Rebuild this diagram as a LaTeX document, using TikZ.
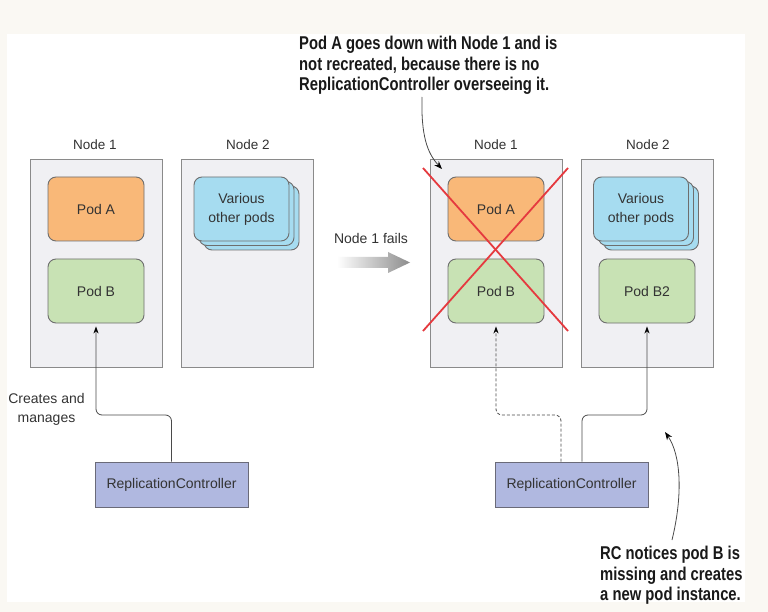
\documentclass[tikz,border=0pt]{standalone}
\usepackage{fontspec}
\setmainfont{Liberation Sans}
\newfontfamily\notefont[FakeStretch=0.80]{Liberation Sans}
\usetikzlibrary{arrows.meta}
\definecolor{bgout}{HTML}{FAF8F3}
\definecolor{nodefill}{HTML}{F0F0F3}
\definecolor{nodedraw}{HTML}{8A8A8A}
\definecolor{podborder}{HTML}{6E6E6E}
\definecolor{podAfill}{HTML}{F9B878}
\definecolor{podBfill}{HTML}{C8E2B4}
\definecolor{varfill}{HTML}{A6DCF0}
\definecolor{rcfill}{HTML}{B0B8E0}
\definecolor{rcdraw}{HTML}{6A6A78}
\definecolor{labelgray}{HTML}{333333}
\definecolor{linegray}{HTML}{4A4A4A}
\definecolor{redx}{HTML}{E53A3F}
\begin{document}
\begin{tikzpicture}[x=1pt,y=-1pt,
  nodebox/.style={draw=nodedraw, fill=nodefill, line width=0.9pt, minimum width=132pt, minimum height=208pt, inner sep=0pt},
  pod/.style={draw=podborder, line width=0.9pt, rounded corners=8pt, minimum width=96pt, minimum height=64pt, inner sep=0pt, align=center, text=labelgray, font=\fontsize{14}{19}\selectfont},
  podA/.style={pod, fill=podAfill},
  podB/.style={pod, fill=podBfill},
  various/.style={pod, fill=varfill, minimum width=95pt},
  rcbox/.style={draw=rcdraw, fill=rcfill, line width=0.9pt, minimum width=153pt, minimum height=45pt, inner sep=0pt, text=labelgray, font=\fontsize{14}{17}\selectfont},
  lbl/.style={text=labelgray, inner sep=0pt, font=\fontsize{13.5}{16}\selectfont, align=center},
  note/.style={inner sep=0pt, align=left, text=black!90, font=\notefont\bfseries\fontsize{18.5}{20.5}\selectfont},
  conn/.style={draw=linegray, line width=0.8pt, rounded corners=6pt, shorten >=3pt, -{Stealth[length=7pt,width=5pt,black]}},
  curvearrow/.style={draw=linegray, line width=0.8pt, -{Stealth[length=8pt,width=6pt,black]}},
  cross/.style={draw=redx, line width=1.8pt}
]
\useasboundingbox (0,0) rectangle (768,612);
\fill[bgout] (0,0) rectangle (768,612);
\fill[white] (7,34) rectangle (745,602);

% ---- left half ----
\node[lbl] (lblN1L) at (95,145) {Node 1};
\node[lbl] (lblN2L) at (248,145) {Node 2};
\node[nodebox] (n1L) at (96,263) {};
\node[nodebox] (n2L) at (247.5,263) {};
\node[podA] (podAL) at (96,209) {Pod A};
\node[podB] (podBL) at (96,291) {Pod B};
\node[various] (vL3) at (251.5,218) {};
\node[various] (vL2) at (246.5,213.5) {};
\node[various] (vL) at (241.5,209) {Various\\other pods};
\node[rcbox] (rcL) at (171.5,484.5) {ReplicationController};
\node[lbl, font=\fontsize{14}{19}\selectfont] (creates) at (46.5,409.5) {Creates and\\manages};

% ---- middle arrow ----
\node[lbl, font=\fontsize{14}{17}\selectfont] (fails) at (371,238) {Node 1 fails};
\shade[left color=white, right color=black!45] (337,257) -- (388,257) -- (388,252) -- (410,262.5) -- (388,273) -- (388,268) -- (337,268) -- cycle;

% ---- right half ----
\node[lbl] (lblN1R) at (496,145) {Node 1};
\node[lbl] (lblN2R) at (648,145) {Node 2};
\node[nodebox] (n1R) at (496,263) {};
\node[nodebox] (n2R) at (647.5,263) {};
\node[podA] (podAR) at (496,209) {Pod A};
\node[podB] (podBR) at (496,291) {Pod B};
\node[various] (vR3) at (651,218) {};
\node[various] (vR2) at (646,213.5) {};
\node[various] (vR) at (641,209) {Various\\other pods};
\node[podB] (podB2) at (647,291) {Pod B2};
\node[rcbox] (rcR) at (571.5,484.5) {ReplicationController};

% red cross
\draw[cross] (423,168) -- (568,331);
\draw[cross] (568,168) -- (423,331);

% ---- connectors ----
\coordinate (jL) at (0,415);
\draw[conn] (rcL.north) -- (rcL.north |- jL) -| (podBL.south);
\draw[conn, dash pattern=on 3pt off 2pt] ([xshift=-10.5pt]rcR.north) -- ([xshift=-10.5pt]rcR.north |- jL) -| (podBR.south);
\draw[conn] ([xshift=10.5pt]rcR.north) -- ([xshift=10.5pt]rcR.north |- jL) -| (podB2.south);

% ---- annotations ----
\node[note, anchor=north west] (topnote) at (299,36) {Pod A goes down with Node 1 and is\\not recreated, because there is no\\ReplicationController overseeing it.};
\node[note, anchor=north west] (botnote) at (600,546) {RC notices pod B is\\missing and creates\\a new pod instance.};
\coordinate (topstart) at (422,97);
\coordinate (toptip) at (442,169);
\draw[curvearrow] (topstart) .. controls (421,135) and (427,153) .. (toptip);
\coordinate (botstart) at (672,540);
\coordinate (bottip) at (665,432);
\draw[curvearrow] (botstart) .. controls (683,495) and (681,455) .. (bottip);
\end{tikzpicture}
\end{document}
